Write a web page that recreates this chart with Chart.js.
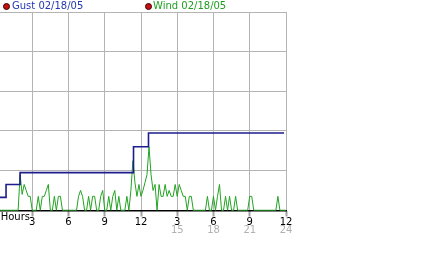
<!DOCTYPE html>
<html>
<head>
<meta charset="utf-8">
<script src="https://cdn.jsdelivr.net/npm/chart.js@4.4.1/dist/chart.umd.min.js"></script>
<style>
  body { margin: 0; background: #fff; }
  #wrap { position: relative; width: 442px; height: 253px; }
  .dot { position: absolute; top: 3px; width: 5px; height: 5px; border-radius: 50%;
         background: #c81010; border: 1px solid #3a0000; }
  .leg { position: absolute; top: 0px; font: 10px "DejaVu Sans", sans-serif; line-height: 12px; white-space: nowrap; }
</style>
</head>
<body>
<div id="wrap">
  <canvas id="grafica" width="442" height="253"></canvas>
  <span class="dot" style="left:3px"></span>
  <span class="leg" style="left:12px;color:#2236b4">Gust 02/18/05</span>
  <span class="dot" style="left:145px"></span>
  <span class="leg" style="left:153px;color:#1f9f1f">Wind 02/18/05</span>
</div>
<script>
// horas (eje x) y valores
const horaInicio = 0.33;
const horaMax = 24;
const pasoViento = 1 / 6; // una muestra cada 10 minutos

const viento = [
  0, 0, 0, 0, 0, 0, 0, 0, 0, 0,
  9, 4, 6.5, 5, 3.5, 3.5,
  0, 0, 0,
  3.5, 0, 3.5, 3.5, 5, 6.5,
  0, 0,
  3.5, 0, 3.5, 3.5, 0,
  0, 0, 0, 0, 0, 0, 0,
  3.5, 5, 3.5,
  0, 0,
  3.5, 0, 3.5, 3.5,
  0, 0,
  3.5, 5,
  0, 0,
  3.5, 0, 3.5, 5,
  0, 3.5, 0, 0, 0, 3.5, 0,
  5, 12.5, 7, 3.5, 6.5, 3.5, 5, 7, 9, 16, 9, 5, 6.5,
  0,
  6.5, 3.5, 3.5, 6.5, 3.5, 5, 3.5, 3.5, 6.5, 3.5, 6.5, 5, 3.5, 3.5,
  0, 3.5, 3.5,
  0, 0, 0, 0, 0, 0, 0,
  3.5, 0, 0, 3.5, 0, 3.5, 6.5, 0, 0, 3.5, 0, 3.5, 0, 0, 3.5,
  0, 0, 0, 0, 0, 0,
  3.5, 3.5,
  0, 0, 0, 0, 0, 0, 0, 0, 0, 0, 0, 0,
  3.5,
  0, 0, 0, 0
];

const horasRafaga = [0.33, 0.83, 1.99, 11.38, 12.62, 23.84];
const rafaga = [3.25, 6.5, 9.5, 16, 19.5, 19.5];

const horasTicks = [3, 6, 9, 12, 15, 18, 21, 24];
const etiquetas12 = ['3', '6', '9', '12', '3', '6', '9', '12'];
const etiquetas24 = ['', '', '', '', '15', '18', '21', '24'];
const posHours = 1.6; // donde va el texto "Hours"

const datosViento = viento.map((v, i) => ({ x: horaInicio + i * pasoViento, y: v }));
const datosRafaga = rafaga.map((v, i) => ({ x: horasRafaga[i], y: v }));

const familia = '"DejaVu Sans", sans-serif';

// tercera fila de etiquetas (15..24) en gris, bajo las horas 3..12
const filaGris = {
  id: 'filaGris',
  afterDraw(chart) {
    const ctx = chart.ctx;
    const ejeX = chart.scales.x;
    ctx.save();
    ctx.font = '10px ' + familia;
    ctx.fillStyle = '#b0b0b0';
    ctx.textAlign = 'center';
    ctx.textBaseline = 'middle';
    horasTicks.forEach((h, i) => {
      if (etiquetas24[i]) ctx.fillText(etiquetas24[i], ejeX.getPixelForValue(h), ejeX.top + 20);
    });
    ctx.restore();
  }
};

new Chart(document.getElementById('grafica'), {
  type: 'line',
  data: {
    datasets: [
      {
        label: 'Gust 02/18/05',
        data: datosRafaga,
        borderColor: '#1c1c8c',
        borderWidth: 1.6,
        stepped: true,
        pointRadius: 0
      },
      {
        label: 'Wind 02/18/05',
        data: datosViento,
        borderColor: '#22a322',
        borderWidth: 1,
        pointRadius: 0,
        clip: false
      }
    ]
  },
  plugins: [filaGris],
  options: {
    responsive: false,
    animation: false,
    devicePixelRatio: 1,
    layout: { padding: { top: 12, right: 156, left: 0, bottom: 42.75 } },
    plugins: { legend: { display: false }, tooltip: { enabled: false } },
    scales: {
      x: {
        type: 'linear',
        position: 'bottom',
        min: horaInicio,
        max: horaMax,
        afterBuildTicks: (eje) => {
          eje.ticks = [{ value: posHours }].concat(horasTicks.map(h => ({ value: h })));
        },
        ticks: {
          autoSkip: false,
          maxRotation: 0,
          mirror: true, // sin recorte de etiquetas
          color: '#000',
          padding: -9.75,
          font: { family: familia, size: 10, lineHeight: 0.55 },
          callback: (valor, i) => i === 0 ? ['Hours', ''] : ['', etiquetas12[i - 1]]
        },
        grid: {
          color: (ctx) => ctx.index === 0 ? 'rgba(0,0,0,0)' : '#b4b4b4',
          tickColor: (ctx) => ctx.index === 0 ? 'rgba(0,0,0,0)' : '#444',
          tickLength: 6,
          tickWidth: 2,
          tickBorderDash: [1, 1]
        },
        border: { display: true, color: '#000', width: 1.5 }
      },
      y: {
        min: 0,
        max: 50,
        ticks: { display: false, stepSize: 10 },
        grid: { color: '#b4b4b4', drawTicks: false },
        border: { display: false }
      }
    }
  }
});
</script>
</body>
</html>
